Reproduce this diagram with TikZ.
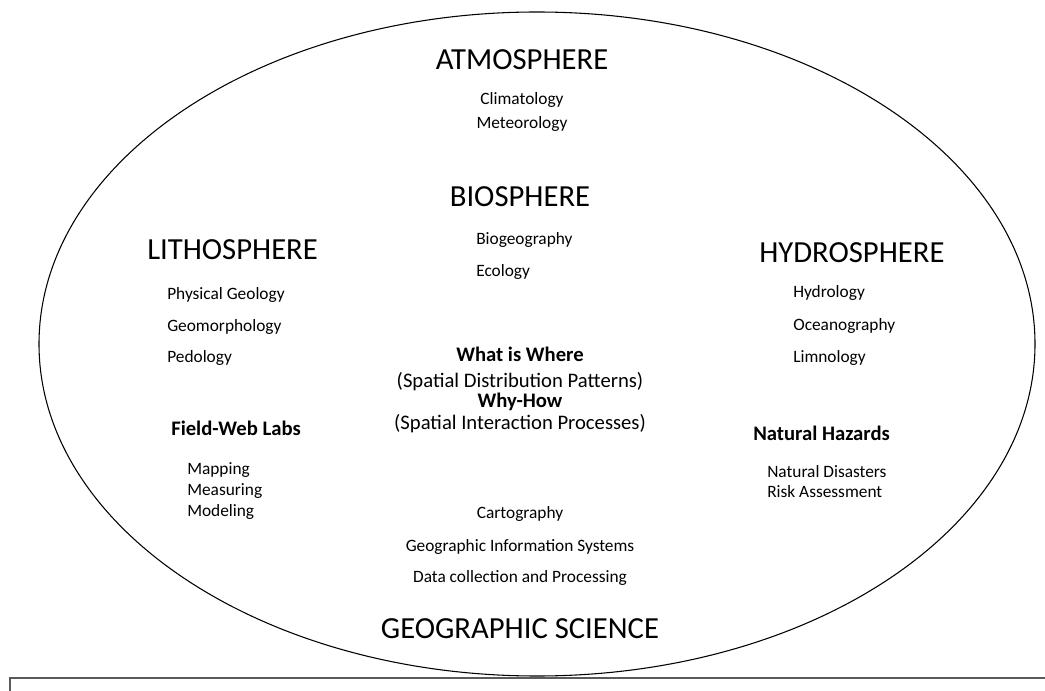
\documentclass[tikz,border=0pt]{standalone}
\usepackage{fontspec}
\setmainfont{Carlito}
\usepackage{tikz}
\usetikzlibrary{positioning,shapes}

\definecolor{BOX_GRAY}{HTML}{5A5A5A}
\tikzstyle{sphere}= [inner sep=0pt, font=\fontsize{23}{26}\selectfont]
\tikzstyle{topic}=  [inner sep=0pt, font=\fontsize{13}{15}\selectfont]
\tikzstyle{theme}=  [inner sep=0pt, font=\bfseries\fontsize{15.5}{18}\selectfont]
\tikzstyle{process}=[inner sep=0pt, font=\fontsize{15.5}{18}\selectfont]
\tikzstyle{outline}=[draw=black, line width=0.8pt, ellipse, inner sep=0pt]

\begin{document}
\begin{tikzpicture}[x=0.75pt, y=-0.75pt]
      \clip (0,0) rectangle (1045,691);
      \fill[white] (0,0) rectangle (1045,691);

      % outer ellipse and the empty box below it
      \node[outline, minimum width=747pt, minimum height=498pt] (GEO_SCI) at (537,344) {};
      \draw[BOX_GRAY, line width=1.2pt] (10,678) rectangle (1060,720);

      %%%%%%%%%%%%%%%%%%%%%%%%%%%%%%%%%%%%%%%%%%%%%%%%%
      % SPHERES
      %%%%%%%%%%%%%%%%%%%%%%%%%%%%%%%%%%%%%%%%%%%%%%%%%
      % ATMOSPHERE
      \node[sphere, anchor=base] (ATM) at (522,70) {ATMOSPHERE};
      \node[topic, below=26.25pt of ATM.base, anchor=base] (CLIM) {Climatology};
      \node[topic, below=18pt of CLIM.base, anchor=base] (MET) {Meteorology};

      % BIOSPHERE
      \node[sphere, anchor=base] (BIO) at (520,207) {BIOSPHERE};
      \node[topic, anchor=base west] (BIOG) at (476,245) {Biogeography};
      \node[topic, below=24pt of BIOG.base west, anchor=base west] (ECO) {Ecology};

      % LITHOSPHERE
      \node[sphere, anchor=base west] (LITH) at (147,260) {LITHOSPHERE};
      \node[topic, below right=30pt and 15pt of LITH.base west, anchor=base west] (PHYS) {Physical Geology};
      \node[topic, below=23.25pt of PHYS.base west, anchor=base west] (GEOM) {Geomorphology};
      \node[topic, below=24pt of GEOM.base west, anchor=base west] (PED) {Pedology};

      % HYDROSPHERE
      \node[sphere, anchor=base west] (HYD) at (759,263) {HYDROSPHERE};
      \node[topic, below right=26.25pt and 25.5pt of HYD.base west, anchor=base west] (HYDL) {Hydrology};
      \node[topic, below=24pt of HYDL.base west, anchor=base west] (OCE) {Oceanography};
      \node[topic, below=24.75pt of OCE.base west, anchor=base west] (LIM) {Limnology};

      %%%%%%%%%%%%%%%%%%%%%%%%%%%%%%%%%%%%%%%%%%%%%%%%%
      % CENTRE
      %%%%%%%%%%%%%%%%%%%%%%%%%%%%%%%%%%%%%%%%%%%%%%%%%
      \node[theme, anchor=base] (WHAT) at (520,362) {What is Where};
      \node[process, below=18.75pt of WHAT.base, anchor=base] (DIST) {(Spatial Distribution Patterns)};
      \node[theme, below=15pt of DIST.base, anchor=base] (WHY) {Why-How};
      \node[process, below=16.5pt of WHY.base, anchor=base] (INTER) {(Spatial Interaction Processes)};

      % Field-Web Labs
      \node[theme, anchor=base west] (LABS) at (171,435) {Field-Web Labs};
      \node[topic, below right=29.25pt and 12pt of LABS.base west, anchor=base west] (MAP) {Mapping};
      \node[topic, below=15.75pt of MAP.base west, anchor=base west] (MEAS) {Measuring};
      \node[topic, below=15.75pt of MEAS.base west, anchor=base west] (MOD) {Modeling};

      % Natural Hazards
      \node[theme, anchor=base west] (HAZ) at (753,440) {Natural Hazards};
      \node[topic, below right=27.75pt and 10.5pt of HAZ.base west, anchor=base west] (DIS) {Natural Disasters};
      \node[topic, below=15pt of DIS.base west, anchor=base west] (RISK) {Risk Assessment};

      % techniques
      \node[topic, anchor=base] (CART) at (520,518) {Cartography};
      \node[topic, below=24.75pt of CART.base, anchor=base] (GIS) {Geographic Information Systems};
      \node[topic, below=23.25pt of GIS.base, anchor=base] (DATA) {Data collection and Processing};

      \node[sphere, anchor=base] (GSCI) at (520,638) {GEOGRAPHIC SCIENCE};
\end{tikzpicture}
\end{document}
